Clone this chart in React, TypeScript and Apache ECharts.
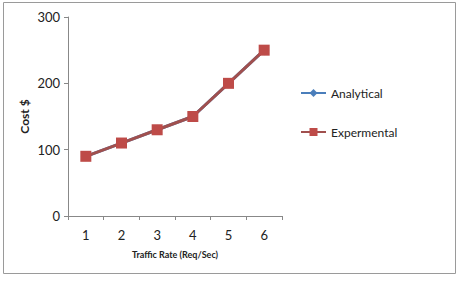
import React, { useEffect, useRef } from "react";
import * as echarts from "echarts";

const categories = ["1", "2", "3", "4", "5", "6"];
const analytical = [90, 110, 130, 150, 200, 250];
const experimental = [90, 110, 130, 150, 200, 250];
const seriesNames = ["Analytical", "Expermental"];

export default function App() {
  const ref = useRef<HTMLDivElement>(null);
  useEffect(() => {
    const chart = echarts.init(ref.current!, null, { renderer: "svg" });
    const font = "Lato, 'Open Sans', sans-serif";
    chart.setOption({
      animation: false,
      backgroundColor: "#fff",
      textStyle: { fontFamily: font },
      graphic: [
        {
          type: "rect",
          shape: { x: 3.5, y: 2.5, width: 452, height: 271 },
          style: { fill: "none", stroke: "#9a9a9a", lineWidth: 1 },
          silent: true,
        },
      ],
      grid: { left: 68, right: 185, top: 17, bottom: 68, containLabel: false },
      legend: {
        orient: "vertical",
        left: 295,
        top: 82,
        itemWidth: 25,
        itemHeight: 10,
        itemGap: 27,
        textStyle: { fontSize: 12, color: "#222", fontFamily: font },
        data: seriesNames,
      },
      xAxis: {
        type: "category",
        data: categories,
        boundaryGap: true,
        name: "Traffic Rate (Req/Sec)",
        nameLocation: "middle",
        nameGap: 34,
        nameTextStyle: { fontSize: 9, fontWeight: "bold", color: "#222", fontFamily: font },
        axisLine: { lineStyle: { color: "#888" } },
        axisTick: { show: true, length: 4, lineStyle: { color: "#888" } },
        axisLabel: { fontSize: 13, color: "#222", margin: 12, fontFamily: font },
      },
      yAxis: {
        type: "value",
        min: 0,
        max: 300,
        interval: 100,
        name: "Cost $",
        nameLocation: "middle",
        nameGap: 38,
        nameTextStyle: { fontSize: 12, fontWeight: "bold", color: "#222", fontFamily: font },
        axisLine: { show: true, lineStyle: { color: "#888" } },
        axisTick: { show: true, length: 4, lineStyle: { color: "#888" } },
        splitLine: { show: false },
        axisLabel: { fontSize: 13, color: "#222", margin: 8, fontFamily: font },
      },
      series: [
        {
          name: seriesNames[0],
          type: "line",
          data: analytical,
          symbol: "diamond",
          symbolSize: 10,
          itemStyle: { color: "#4A7EBB" },
          lineStyle: { width: 3, color: "#4A7EBB" },
        },
        {
          name: seriesNames[1],
          type: "line",
          data: experimental,
          symbol: "rect",
          symbolSize: 11,
          itemStyle: { color: "#BE4B48" },
          lineStyle: { width: 3, color: "#A0504E" },
        },
      ],
    });
    return () => chart.dispose();
  }, []);
  return <div ref={ref} style={{ width: 467, height: 284, position: "absolute", left: 0, top: 0 }} />;
}
